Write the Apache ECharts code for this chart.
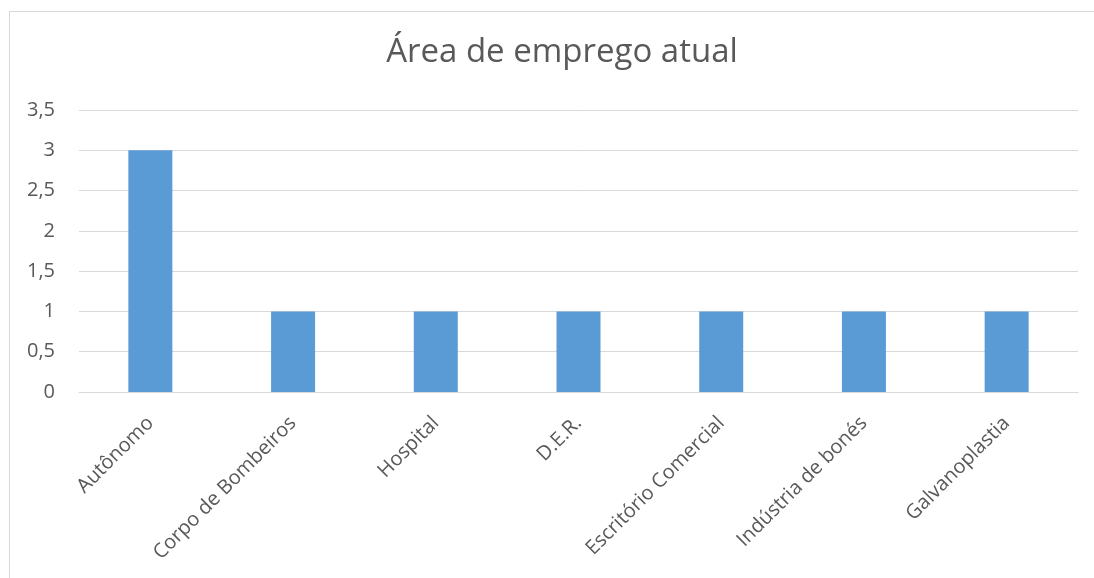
<!DOCTYPE html>
<html><head><meta charset="utf-8">
<script src="https://cdn.jsdelivr.net/npm/echarts@6/dist/echarts.min.js"></script>
<style>html,body{margin:0;padding:0;background:#fff;overflow:hidden;width:1094px;height:578px}#c{width:1094px;height:578px}
#b{position:absolute;left:9px;top:11px;width:1085px;height:567px;border-left:1px solid #d9d9d9;border-top:1px solid #d9d9d9;box-sizing:border-box;pointer-events:none}</style>
</head><body><div id="c"></div><div id="b"></div>
<script>
const categories = ['Autônomo','Corpo de Bombeiros','Hospital','D.E.R.','Escritório Comercial','Indústria de bonés','Galvanoplastia'];
const values = [3,1,1,1,1,1,1];
const chart = echarts.init(document.getElementById('c'), null, {renderer:'canvas'});
const font = 'Open Sans, Noto Sans, sans-serif';
chart.setOption({
  animation:false,
  title:{text:'Área de emprego atual',left:557,textAlign:'center',top:31,
    textStyle:{fontFamily:font,fontSize:33,fontWeight:'normal',color:'#595959'}},
  grid:{left:79,right:16,top:110,bottom:186},
  xAxis:{type:'category',data:categories,
    axisLine:{lineStyle:{color:'#d9d9d9',width:1}},axisTick:{show:false},
    axisLabel:{rotate:45,interval:0,margin:28,fontFamily:font,fontSize:20,color:'#595959'}},
  yAxis:{type:'value',min:0,max:3.5,interval:0.5,
    axisLine:{show:false},axisTick:{show:false},
    splitLine:{lineStyle:{color:'#d9d9d9',width:1}},
    axisLabel:{margin:24,fontFamily:font,fontSize:20,color:'#595959',
      formatter:v=>String(v).replace('.',',')}},
  series:[{type:'bar',data:values,barWidth:44,itemStyle:{color:'#5b9bd5'}}]
});
</script></body></html>
